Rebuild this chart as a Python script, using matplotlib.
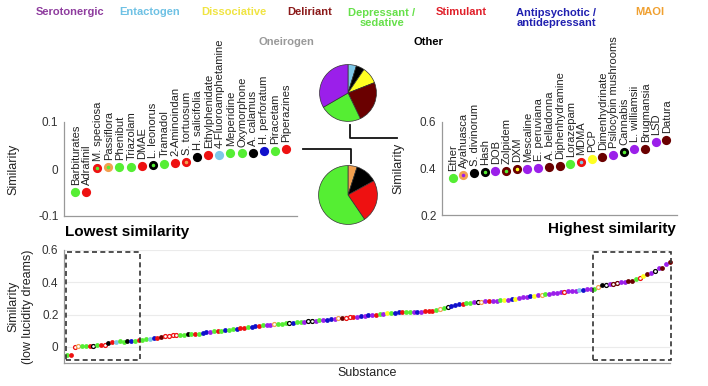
import matplotlib
matplotlib.use('Agg')
import matplotlib.pyplot as plt
from matplotlib.lines import Line2D
from matplotlib.patches import Rectangle

plt.rcParams['font.family'] = ['Liberation Sans', 'DejaVu Sans']

# === COLORES POR CATEGORIA ===
cat_colors = {'p': '#9B1FEA', 'c': '#7EC8E8', 'y': '#FFFF22', 'm': '#6A0000',
              'g': '#55EE33', 'r': '#EE1111', 'b': '#1010CC', 'o': '#F2A050',
              'k': '#000000'}

legend_names = ['Serotonergic', 'Entactogen', 'Dissociative', 'Deliriant',
                'Depressant /\nsedative', 'Stimulant', 'Antipsychotic /\nantidepressant',
                'MAOI', 'Oneirogen', 'Other']
legend_colors = ['#8E3C9E', '#6EC1E4', '#F0E442', '#8B1A1A', '#66E04A', '#E0202A',
                 '#2020B0', '#F0A030', '#999999', '#000000']

# === DATOS ===
low_names = ['Barbiturates', 'Adrafinil', 'M. speciosa', 'Passiflora', 'Phenibut',
             'Triazolam', 'DMAE', 'L. leonorus', 'Tramadol', '2-Aminoindan',
             'S. tortuosum', 'H. salicifolia', 'Ethylphenidate', '4-Fluoroamphetamine',
             'Meperidine', 'Oxymorphone', 'A. calamus', 'H. perforatum', 'Piracetam',
             'Piperazines']
low_vals = [-0.048, -0.049, 0.002, 0.004, 0.005, 0.005, 0.006, 0.008, 0.011, 0.012,
            0.014, 0.025, 0.029, 0.029, 0.034, 0.033, 0.035, 0.039, 0.039, 0.042]
low_edge = 'g r r o g g r k g r r k r c g g k b g r'.split()
low_face = 'g r g g g g r g g r o k r c g g k b g r'.split()

high_names = ['Ether', 'Ayahuasca', 'S. divinorum', 'Hash', 'DOB', 'Zolpidem', 'DXM',
              'Mescaline', 'E. peruviana', 'A. belladonna', 'Diphenhydramine',
              'Lorazepam', 'MDMA', 'PCP', 'Dimenhydrinate', 'Psilocybin mushrooms',
              'Cannabis', 'L. williamsii', 'Brugmansia', 'LSD', 'Datura']
high_vals = [0.361, 0.371, 0.381, 0.384, 0.389, 0.390, 0.396, 0.399, 0.403, 0.407,
             0.410, 0.420, 0.427, 0.440, 0.449, 0.459, 0.470, 0.486, 0.486, 0.516, 0.524]
high_edge = 'g o k k p m m p p m m g r y m p k p m p m'.split()
high_face = 'g p k g p g y p p m m g c y m p g p m p m'.split()

mid_vals = [0.044, 0.046, 0.048, 0.052, 0.056, 0.062, 0.066, 0.070, 0.073, 0.074,
            0.075, 0.076, 0.077, 0.078, 0.079, 0.082, 0.086, 0.090, 0.095, 0.098,
            0.100, 0.101, 0.102, 0.104, 0.108, 0.111, 0.114, 0.118, 0.122, 0.126,
            0.129, 0.131, 0.133, 0.135, 0.137, 0.140, 0.142, 0.144, 0.146, 0.148,
            0.150, 0.152, 0.154, 0.156, 0.158, 0.160, 0.162, 0.164, 0.166, 0.169,
            0.172, 0.174, 0.176, 0.178, 0.180, 0.183, 0.185, 0.188, 0.191, 0.194,
            0.196, 0.198, 0.200, 0.202, 0.205, 0.207, 0.209, 0.211, 0.213, 0.215,
            0.216, 0.217, 0.218, 0.219, 0.219, 0.220, 0.222, 0.225, 0.228, 0.232,
            0.240, 0.248, 0.255, 0.260, 0.265, 0.268, 0.271, 0.273, 0.275, 0.277,
            0.279, 0.281, 0.283, 0.285, 0.287, 0.289, 0.291, 0.293, 0.295, 0.298,
            0.302, 0.306, 0.310, 0.313, 0.316, 0.319, 0.322, 0.326, 0.328, 0.331,
            0.334, 0.337, 0.340, 0.343, 0.346, 0.349, 0.352, 0.355, 0.358, 0.360]
# mayuscula = marcador hueco
mid_codes = ('g g c b r m R R R R g g k g r g b b p g '
             'r g b g g b r r g b '
             'b r g p p O g g g K '
             'b g g p K K p g p b '
             'b p O m R R r p b p '
             'b p r g p y g b b r '
             'g g p b p r r r g O '
             'g K b b b r g g p K '
             'O p r p p g y p b y '
             'p p p b y p O g p p '
             'p p R p p p c b p p').split()

top_pie_vals = [1, 1, 2, 5, 5, 7]
top_pie_cols = ['c', 'k', 'y', 'm', 'g', 'p']
bot_pie_vals = [1, 2.4, 4.7, 11.9]
bot_pie_cols = ['o', 'k', 'r', 'g']

W, H = 708, 386
fig = plt.figure(figsize=(W / 100, H / 100), dpi=100)
fig.patch.set_facecolor('white')


def px_axes(x0, y0, x1, y1):
    # caja en pixeles (origen arriba-izquierda)
    return fig.add_axes([x0 / W, 1 - y1 / H, (x1 - x0) / W, (y1 - y0) / H])


def style_axes(ax):
    for s in ['top', 'right']:
        ax.spines[s].set_visible(False)
    for s in ['left', 'bottom']:
        ax.spines[s].set_color('#999999')
        ax.spines[s].set_linewidth(0.9)
    ax.tick_params(axis='y', length=0, labelsize=8.5, colors='#333333', pad=4)
    ax.set_xticks([])
    ax.patch.set_alpha(0)


def inset(ax, names, vals, edge, face, yticks, ylabels):
    xs = list(range(1, len(vals) + 1))
    for x, v, e, f, n in zip(xs, vals, edge, face, names):
        if e == f:
            ax.scatter(x, v, s=44, c=cat_colors[f], linewidths=0, zorder=3, clip_on=False)
        else:
            ax.scatter(x, v, s=21, c=cat_colors[f], edgecolors=cat_colors[e],
                       linewidths=2.0, zorder=3, clip_on=False)
        ax.annotate(n, (x, v), xytext=(0.5, 5), textcoords='offset points',
                    rotation=90, ha='center', va='bottom', fontsize=8,
                    color='#222222', annotation_clip=False)
    ax.set_xlim(0, len(vals) + 1)
    ax.set_ylim(yticks[0], yticks[-1])
    ax.set_yticks(yticks)
    ax.set_yticklabels(ylabels)
    style_axes(ax)
    ax.set_ylabel('Similarity', fontsize=9, color='#222222', labelpad=2)


# --- inset izquierdo ---
ax_low = px_axes(64, 122, 297, 216)
inset(ax_low, low_names, low_vals, low_edge, low_face, [-0.1, 0, 0.1], ['-0.1', '0', '0.1'])
ax_low.yaxis.set_label_coords(-0.19, 0.5)
fig.text(65 / W, 1 - 232 / H, 'Lowest similarity', fontsize=11, fontweight='bold',
         ha='left', va='center')

# --- inset derecho ---
ax_high = px_axes(442, 122, 677, 215)
inset(ax_high, high_names, high_vals, high_edge, high_face, [0.2, 0.4, 0.6], ['0.2', '0.4', '0.6'])
ax_high.yaxis.set_label_coords(-0.16, 0.5)
fig.text(676 / W, 1 - 229 / H, 'Highest similarity', fontsize=11, fontweight='bold',
         ha='right', va='center')

# --- panel inferior ---
ax = px_axes(64, 250, 670, 363)
all_vals = low_vals + mid_vals + high_vals
all_codes = ([e if e == f else e.upper() for e, f in zip(low_edge, low_face)] + mid_codes +
             [e if e == f else e.upper() for e, f in zip(high_edge, high_face)])
for i, (v, c) in enumerate(zip(all_vals, all_codes)):
    col = cat_colors[c.lower()]
    if c.isupper():
        ax.scatter(i + 1, v, s=8, c='white', edgecolors=col, linewidths=0.9, zorder=3, clip_on=False)
    else:
        ax.scatter(i + 1, v, s=12, c=col, linewidths=0, zorder=3, clip_on=False)
ax.set_xlim(0.2, len(all_vals) + 0.05)
ax.set_ylim(-0.1, 0.6)
ax.set_yticks([0, 0.2, 0.4, 0.6])
ax.set_yticklabels(['0', '0.2', '0.4', '0.6'])
style_axes(ax)
ax.yaxis.grid(True, color='#EBEBEB', linewidth=0.8)
ax.set_axisbelow(True)
ax.set_xlabel('Substance', fontsize=9, color='#222222', labelpad=3)
ax.set_ylabel('Similarity\n(low lucidity dreams)', fontsize=9, color='#222222', labelpad=6)

n_low, n_high = len(low_vals), len(high_vals)
for x0, x1 in [(0.75, n_low + 0.3), (len(all_vals) - n_high + 0.6, len(all_vals) + 0.35)]:
    ax.add_patch(Rectangle((x0, -0.08), x1 - x0, 0.667, fill=False, ls=(0, (3, 2)),
                           lw=1.2, ec='#333333', zorder=4, clip_on=False))

# --- pasteles ---
def pie_at(cx, cy, r, vals, cols):
    a = px_axes(cx - r, cy - r, cx + r, cy + r)
    a.pie(vals, colors=[cat_colors[c] for c in cols], startangle=90, counterclock=False,
          wedgeprops=dict(edgecolor='#333333', linewidth=0.5))
    a.set_xlim(-1.02, 1.02)
    a.set_ylim(-1.02, 1.02)
    a.set_aspect('equal')
    a.axis('off')

pie_at(348, 93, 29, top_pie_vals, top_pie_cols)
pie_at(348, 195, 30, bot_pie_vals, bot_pie_cols)

# conectores
def fig_line(xs, ys):
    fig.add_artist(Line2D([x / W for x in xs], [1 - y / H for y in ys], color='#111111', lw=1.3))

fig_line([350, 350, 397], [125, 138, 138])
fig_line([303, 350.5, 350.5], [149, 149, 163])

# --- leyenda de categorias ---
leg_pos = [(70, 12), (150, 12), (234, 12), (310, 12), (382, 18), (461, 12),
           (556, 18), (650, 12), (286, 42), (428, 42)]
for (x, y), name, col in zip(leg_pos, legend_names, legend_colors):
    fig.text(x / W, 1 - y / H, name, color=col, fontsize=8, fontweight='bold',
             ha='center', va='center', linespacing=1.0)

fig.savefig('out.png', dpi=100)
